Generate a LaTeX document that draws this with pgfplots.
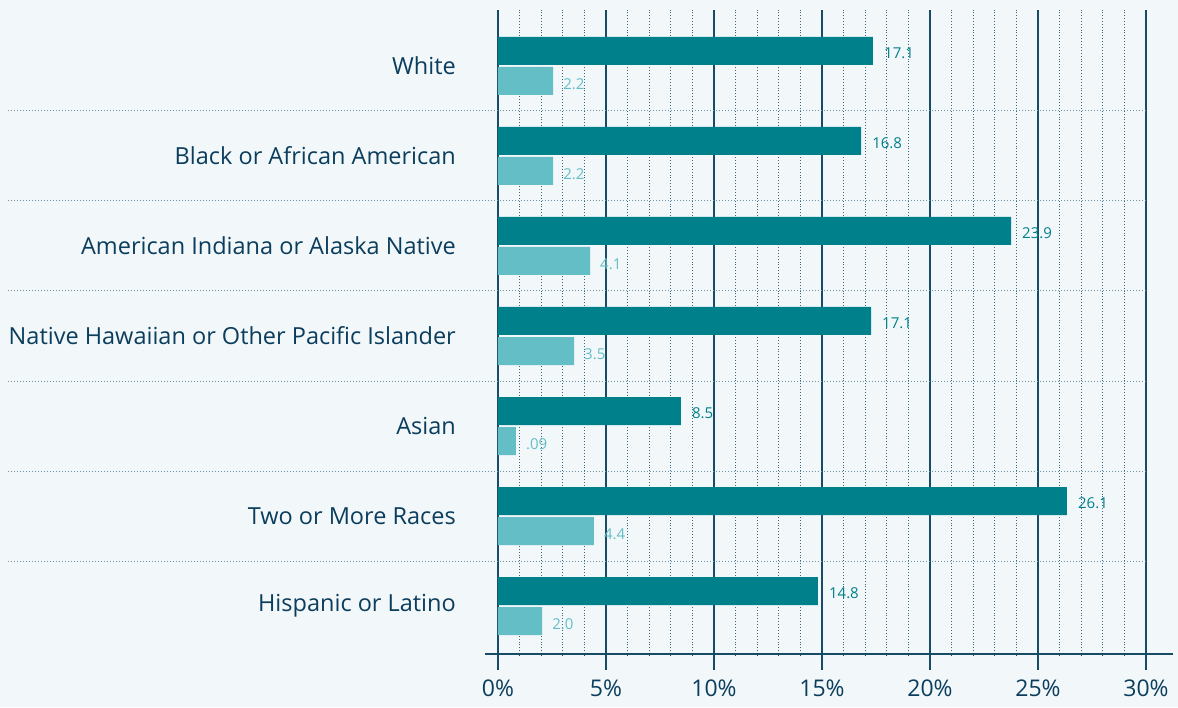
\documentclass[border=0pt]{standalone}
\usepackage{fontspec}
\setmainfont{Open Sans}
\usepackage{pgfplots}
\pgfplotsset{compat=1.18}
\definecolor{bg}{HTML}{F2F7FA}
\definecolor{dark}{HTML}{00808A}
\definecolor{light}{HTML}{64BEC6}
\definecolor{navy}{HTML}{0B3D5C}
\definecolor{gridc}{HTML}{184B66}
\definecolor{sepc}{HTML}{6F8FA3}
\pgfplotstableread{
x y label
17.36 6.1667 17.1
16.81 5.1667 16.8
23.75 4.1667 23.9
17.27 3.1667 17.1
8.47 2.1667 8.5
26.34 1.1667 26.1
14.81 0.1667 14.8
}\darkdata
\pgfplotstableread{
x y label
2.55 5.8333 2.2
2.55 4.8333 2.2
4.26 3.8333 4.1
3.52 2.8333 3.5
0.83 1.8333 .09
4.44 0.8333 4.4
2.04 -0.1667 2.0
}\lightdata
\begin{document}
\begin{tikzpicture}[x=1pt,y=1pt]
\useasboundingbox (0,0) rectangle (1178,707);
\fill[bg] (0,0) rectangle (1178,707);
\begin{axis}[at={(498pt,53pt)}, anchor=south west, scale only axis,
 width=648pt, height=644pt,
 xmin=0, xmax=30, ymin=-0.533, ymax=6.622,
 clip=false,
 xbar, bar width=28pt, bar shift=0pt,
 axis x line*=bottom, axis y line*=left,
 x axis line style={gridc, line width=1.3pt, shorten <=-13pt, shorten >=-27pt, -},
 y axis line style={gridc, line width=1.3pt, -},
 xtick={0,5,10,15,20,25,30},
 xticklabels={0\%,5\%,10\%,15\%,20\%,25\%,30\%},
 minor x tick num=4,
 tick align=outside,
 major tick length=16pt, minor tick length=2pt,
 xtick style={gridc, line width=1.3pt},
 every minor tick/.append style={gridc, line width=1pt},
 xmajorgrids, xminorgrids,
 major x grid style={gridc, line width=1.3pt},
 minor x grid style={gridc!85, line width=0.9pt, dotted},
 ytick={0,1,2,3,4,5,6},
 yticklabels={Hispanic or Latino, Two or More Races, Asian, Native Hawaiian or Other Pacific Islander, American Indiana or Alaska Native, Black or African American, White},
 ytick style={draw=none},
 yticklabel style={font=\fontsize{23.5}{26}\selectfont, text=navy, anchor=east, inner sep=0pt, xshift=-26pt},
 xticklabel style={font=\fontsize{23}{26}\selectfont, text=navy, anchor=north, inner sep=0pt, yshift=-10pt},
 nodes near coords,
 point meta=explicit symbolic,
]
\addplot[fill=dark, draw=none, nodes near coords style={anchor=west, inner sep=0pt, xshift=11pt, yshift=-2pt, font=\fontsize{15}{16}\selectfont, text=dark}] table[x=x, y=y, meta=label] {\darkdata};
\addplot[fill=light, draw=none, nodes near coords style={anchor=west, inner sep=0pt, xshift=10pt, yshift=-3pt, font=\fontsize{15}{16}\selectfont, text=light}] table[x=x, y=y, meta=label] {\lightdata};
\draw[sepc, line width=1pt, dotted] (axis cs:0,5.5) ++(-490pt,0pt) -- (axis cs:30,5.5);
\draw[sepc, line width=1pt, dotted] (axis cs:0,4.5) ++(-490pt,0pt) -- (axis cs:30,4.5);
\draw[sepc, line width=1pt, dotted] (axis cs:0,3.5) ++(-490pt,0pt) -- (axis cs:30,3.5);
\draw[sepc, line width=1pt, dotted] (axis cs:0,2.5) ++(-490pt,0pt) -- (axis cs:30,2.5);
\draw[sepc, line width=1pt, dotted] (axis cs:0,1.5) ++(-490pt,0pt) -- (axis cs:30,1.5);
\draw[sepc, line width=1pt, dotted] (axis cs:0,0.5) ++(-490pt,0pt) -- (axis cs:30,0.5);
\end{axis}
\end{tikzpicture}
\end{document}
